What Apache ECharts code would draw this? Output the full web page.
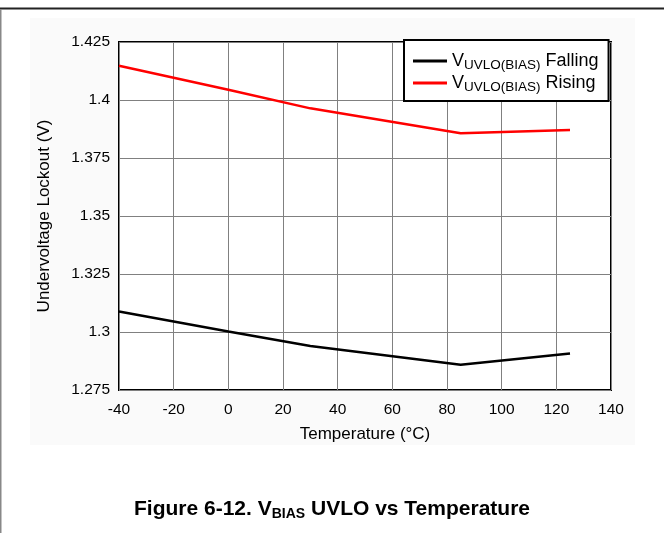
<!DOCTYPE html>
<html>
<head>
<meta charset="utf-8">
<script src="https://cdn.jsdelivr.net/npm/echarts@6/dist/echarts.min.js"></script>
<style>
html,body{margin:0;padding:0;background:#fff;}
#chart{width:664px;height:533px;}
</style>
</head>
<body>
<div id="chart"></div>
<script>
// Data
const temperature = [-40, 0, 30, 85, 125];
const fallingValues = [1.3088, 1.3002, 1.2940, 1.2859, 1.2907];
const risingValues = [1.4148, 1.4044, 1.3964, 1.3857, 1.3871];
const seriesNames = ['Falling', 'Rising'];
const xTicks = { min: -40, max: 140, interval: 20 };
const yTicks = { min: 1.275, max: 1.425, interval: 0.025 };

const FONT = '"Liberation Sans", Arial, sans-serif';

function pairs(xs, ys) { return xs.map((x, i) => [x, ys[i]]); }

const chart = echarts.init(document.getElementById('chart'), null, { renderer: 'canvas' });
chart.setOption({
  animation: false,
  backgroundColor: '#ffffff',
  graphic: [
    { type: 'rect', z: -10, shape: { x: 30, y: 18, width: 605, height: 427 }, style: { fill: '#fafafa' }, silent: true },
    { type: 'line', z: -5, shape: { x1: 0, y1: 8.5, x2: 664, y2: 8.5 }, style: { stroke: '#222', lineWidth: 2 }, silent: true },
    { type: 'line', z: -5, shape: { x1: 0.75, y1: 9, x2: 0.75, y2: 533 }, style: { stroke: '#888', lineWidth: 1.5 }, silent: true }
  ],
  title: {
    text: '{b|Figure 6-12. V}{s|BIAS}{b| UVLO vs Temperature}',
    left: 'center',
    top: 492,
    textStyle: {
      rich: {
        b: { fontFamily: FONT, fontSize: 21, fontWeight: 'bold', color: '#000' },
        s: { fontFamily: FONT, fontSize: 14, fontWeight: 'bold', color: '#000', padding: [10, 0, 0, 0] }
      }
    }
  },
  legend: {
    orient: 'vertical',
    left: 404,
    top: 40,
    padding: [12, 10, 7, 9],
    itemGap: 2,
    itemWidth: 34,
    itemHeight: 3,
    icon: 'rect',
    backgroundColor: '#ffffff',
    borderColor: '#000',
    borderWidth: 2,
    borderRadius: 0,
    data: seriesNames,
    formatter: function (name) { return '{v|V}{s|UVLO(BIAS)}{v| ' + name + '}'; },
    textStyle: {
      padding: [0, 0, 0, 0],
      rich: {
        v: { fontFamily: FONT, fontSize: 18, color: '#000' },
        s: { fontFamily: FONT, fontSize: 13.5, color: '#000', padding: [8, 0, 0, 0] }
      }
    }
  },
  grid: {
    left: 119,
    right: 53,
    top: 42,
    bottom: 143,
    show: true,
    borderColor: '#000',
    borderWidth: 2,
    backgroundColor: '#ffffff',
    containLabel: false
  },
  xAxis: {
    type: 'value',
    min: xTicks.min,
    max: xTicks.max,
    interval: xTicks.interval,
    name: 'Temperature (°C)',
    nameLocation: 'middle',
    nameGap: 36,
    nameTextStyle: { fontFamily: FONT, fontSize: 17, color: '#000' },
    axisLine: { show: false },
    axisTick: { show: false },
    axisLabel: { fontFamily: FONT, fontSize: 15.5, color: '#000', margin: 12 },
    splitLine: { show: true, lineStyle: { color: '#808080', width: 1 } }
  },
  yAxis: {
    type: 'value',
    min: yTicks.min,
    max: yTicks.max,
    interval: yTicks.interval,
    name: 'Undervoltage Lockout (V)',
    nameLocation: 'middle',
    nameGap: 66,
    nameTextStyle: { fontFamily: FONT, fontSize: 17, color: '#000' },
    axisLine: { show: false },
    axisTick: { show: false },
    axisLabel: {
      fontFamily: FONT, fontSize: 15.5, color: '#000', margin: 9,
      formatter: function (v) { return String(+v.toFixed(3)); }
    },
    splitLine: { show: true, lineStyle: { color: '#808080', width: 1 } }
  },
  series: [
    {
      name: seriesNames[0], type: 'line', showSymbol: false, symbol: 'none',
      data: pairs(temperature, fallingValues),
      lineStyle: { color: '#000000', width: 2.5 }, itemStyle: { color: '#000000' }
    },
    {
      name: seriesNames[1], type: 'line', showSymbol: false, symbol: 'none',
      data: pairs(temperature, risingValues),
      lineStyle: { color: '#ff0000', width: 2.5 }, itemStyle: { color: '#ff0000' }
    }
  ]
});
</script>
</body>
</html>
